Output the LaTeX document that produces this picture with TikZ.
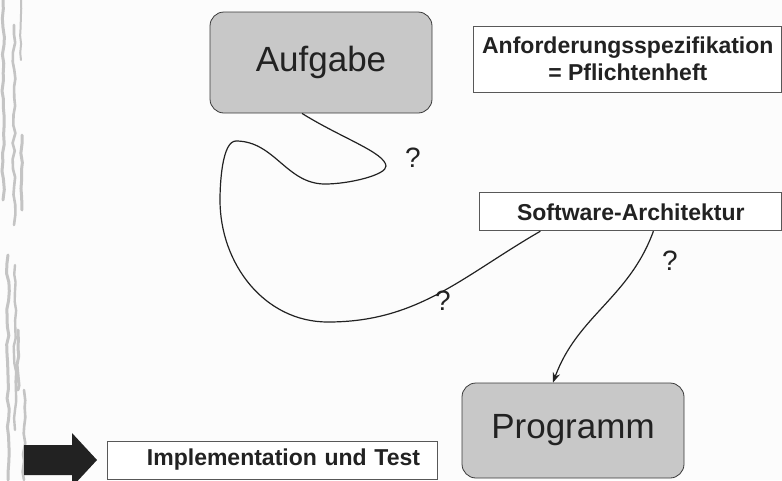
\documentclass[tikz,border=0pt]{standalone}
\usepackage{fontspec}
\setmainfont{Liberation Sans}
\usepackage{tikz}
\usetikzlibrary{positioning, calc, arrows.meta, decorations.pathmorphing}

\definecolor{paper}{HTML}{FCFCFC}
\definecolor{boxgray}{HTML}{C8C8C8}
\definecolor{linegray}{HTML}{3A3A3A}
\definecolor{textdark}{HTML}{222222}
\definecolor{streak}{HTML}{C4C4C4}

\tikzstyle{mainbox} = [rectangle, rounded corners=14pt, minimum width=222pt, inner sep=0pt, text centered, draw=linegray, line width=0.8pt, fill=boxgray, text=textdark, font=\fontsize{35}{40}\selectfont]
\tikzstyle{labelbox} = [rectangle, minimum height=38pt, inner sep=0pt, text centered, draw=linegray!85, line width=0.8pt, fill=white, text=textdark, font=\bfseries\fontsize{23}{27}\selectfont]
\tikzstyle{path} = [line width=1.2pt, draw=textdark]
\tikzstyle{arrow} = [line width=1.2pt, draw=textdark, -{Stealth[length=10pt, width=7.5pt]}]
\tikzstyle{question} = [inner sep=0pt, text=textdark, font=\fontsize{28}{28}\selectfont]

\begin{document}
\begin{tikzpicture}[x=1pt, y=1pt]
    \useasboundingbox (0,0) rectangle (782,-480);
    \fill[paper] (0,0) rectangle (782,-480);

    % Streaks along the left margin
    \pgfmathsetseed{7}
    \foreach \x/\ya/\yb/\w in {3/0/200/3, 14/25/225/2.6, 22/135/210/3, 21/0/60/2, 8/255/480/3, 15/265/430/2.4, 24/390/480/2.6, 18/330/390/3}
        \draw[streak, line width=\w pt, line cap=round, decorate, decoration={random steps, segment length=9pt, amplitude=1.4pt}] (\x,-\ya) -- (\x,-\yb);

    % Nodes
    \node (aufgabe) [mainbox, minimum height=101pt] at (321,-62.5) {Aufgabe};
    \node (anford) [labelbox, minimum width=308pt, minimum height=66pt, align=center, right=41pt of aufgabe, yshift=3.5pt] {Anforderungsspezifikation\\= Pflichtenheft};
    \node (swarch) [labelbox, minimum width=302pt, below=100pt of anford, xshift=3pt] {Software-Architektur};
    \node (programm) [mainbox, minimum height=95pt] at (573,-430.5) {Programm};
    \node (impl) [labelbox, minimum width=330pt, text width=296pt, align=right] at (272,-460) {Implementation und Test};

    % Big arrow pointing at the last step
    \fill[textdark] (24,-445) -- (72,-445) -- (72,-433) -- (97,-460) -- (72,-487) -- (72,-475) -- (24,-475) -- cycle;

    % Winding way from the task to the architecture
    \draw [path] ($(aufgabe.south)+(-19,0)$)
        to[out=-32, in=95, out looseness=1.2, in looseness=0.35] (386,-166)
        to[out=-85, in=0, out looseness=0.35] (325,-184)
        to[out=180, in=0] (236,-141)
        to[out=180, in=90, looseness=0.6] (220,-200)
        to[out=-90, in=180] (328,-322)
        to[out=0, in=-150] ($(swarch.south west)+(61,0)$);

    % From the architecture to the program
    \draw [arrow] ($(swarch.south west)+(174,0)$) to[out=-110, in=70] ($(programm.north)+(-20,0)$);

    % Question marks
    \node (q1) [question] at (413,-158) {?};
    \node (q2) [question] at (443,-301) {?};
    \node (q3) [question] at (670,-261) {?};
\end{tikzpicture}
\end{document}
